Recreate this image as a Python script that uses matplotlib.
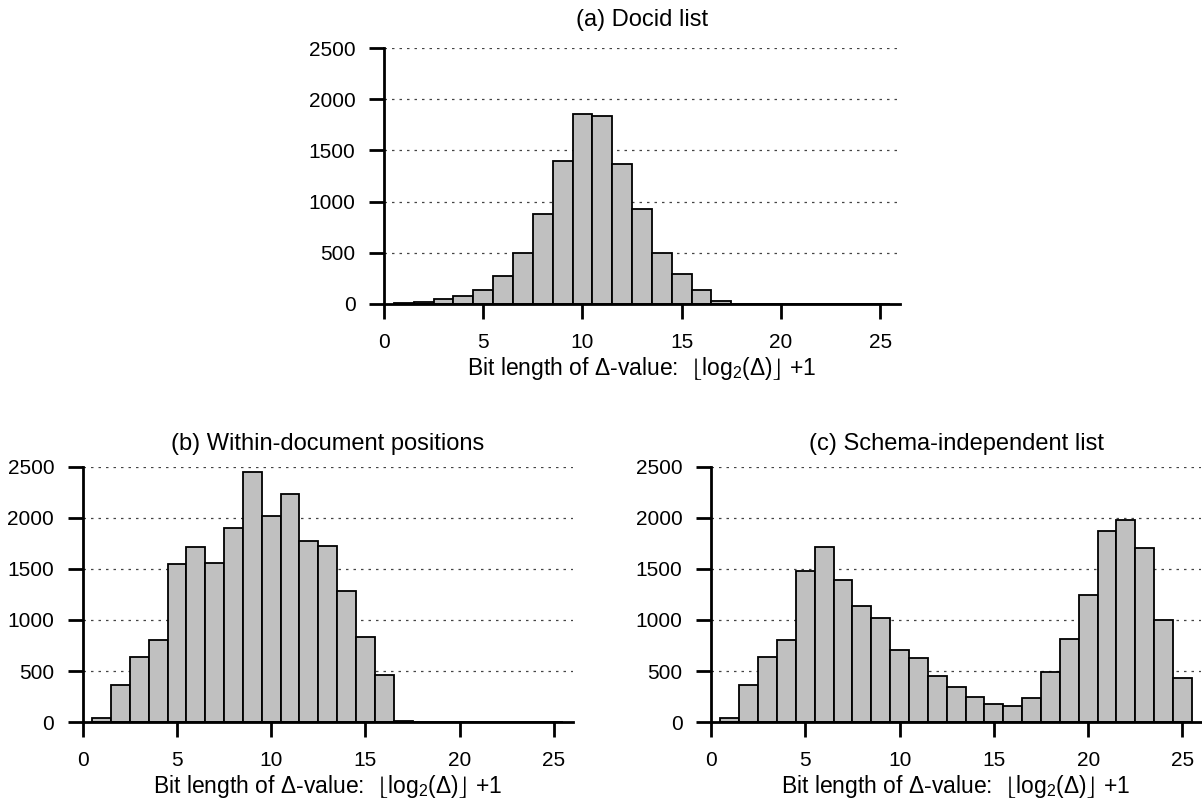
import matplotlib
matplotlib.use("Agg")
import matplotlib.pyplot as plt
import numpy as np

plt.rcParams['font.family'] = ['Liberation Sans', 'DejaVu Sans']
plt.rcParams['mathtext.fontset'] = 'custom'
plt.rcParams['mathtext.rm'] = 'Liberation Sans'
plt.rcParams['mathtext.it'] = 'Liberation Sans:italic'
plt.rcParams['mathtext.fallback'] = 'stix'
plt.rcParams['font.size'] = 15

# bit lengths 1..25
bit_len = np.arange(1, 26)

docid_counts = [5, 20, 49, 82, 137, 278, 500, 882, 1399, 1860, 1837, 1369, 928,
                500, 291, 137, 33, 4, 0, 0, 0, 0, 0, 0, 0]
within_doc_counts = [42, 361, 638, 807, 1546, 1712, 1559, 1901, 2448, 2012, 2233,
                     1771, 1719, 1279, 837, 459, 13, 0, 0, 0, 0, 0, 0, 0, 0]
schema_ind_counts = [42, 361, 638, 807, 1481, 1709, 1393, 1139, 1016, 703, 632, 449,
                     342, 251, 182, 160, 238, 488, 817, 1240, 1865, 1979, 1706, 996, 436]

titles = ["(a) Docid list", "(b) Within-document positions", "(c) Schema-independent list"]
xlabel = r"Bit length of $\Delta$-value:  $\left\lfloor\mathrm{log}_2(\Delta)\right\rfloor$ +1"

W, H = 1202, 809
fig = plt.figure(figsize=(W / 100, H / 100), dpi=100)
# axes boxes in pixels: left, right, top, bottom
boxes = [(384, 900, 48, 304), (82.7, 572.7, 466.5, 722.3), (711, 1201.3, 466.5, 722.3)]
axes = [fig.add_axes([l / W, 1 - b / H, (r - l) / W, (b - t) / H]) for l, r, t, b in boxes]
title_pads = [16, 12, 12]

for ax, counts, title, tpad in zip(axes, [docid_counts, within_doc_counts, schema_ind_counts],
                                   titles, title_pads):
  ax.bar(bit_len, counts, width=1.0, color='#c0c0c0', edgecolor='black',
         linewidth=1.3, zorder=3, clip_on=False)
  ax.set_xlim(0, 26)
  ax.set_ylim(0, 2500)
  ax.set_xticks([0, 5, 10, 15, 20, 25])
  ax.set_yticks([0, 500, 1000, 1500, 2000, 2500])
  for y in [500, 1000, 1500, 2000, 2500]:
    ax.axhline(y, color='#444444', linestyle=(0, (2, 4)), linewidth=0.9, zorder=1)
  ax.spines['top'].set_visible(False)
  ax.spines['right'].set_visible(False)
  for side in ['left', 'bottom']:
    ax.spines[side].set_linewidth(2)
    ax.spines[side].set_zorder(4)
  ax.tick_params(axis='both', direction='out', length=11, width=2)
  ax.tick_params(axis='x', pad=10)
  ax.tick_params(axis='y', pad=9.5)
  ax.set_title(title, pad=tpad, fontsize=17)
  ax.set_xlabel(xlabel, labelpad=2, fontsize=16.5)

fig.savefig("out.png", dpi=100)
